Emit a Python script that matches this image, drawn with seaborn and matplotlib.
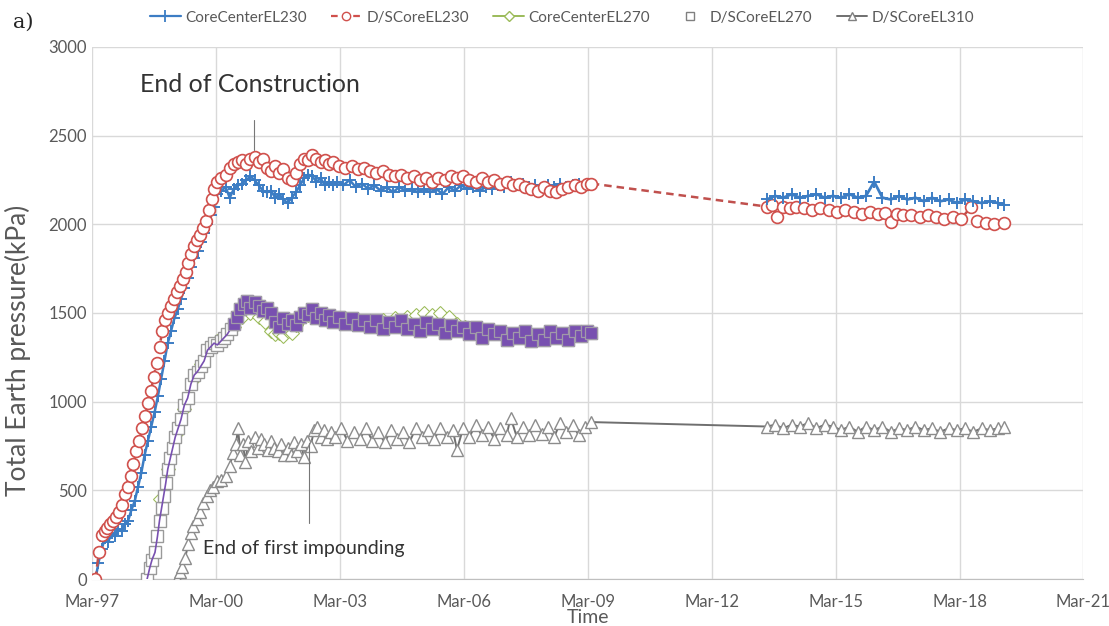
import matplotlib
matplotlib.use("Agg")
import matplotlib.pyplot as plt
from matplotlib.lines import Line2D
import seaborn as sns

# ---- data (decimal years, kPa) ----
cc230_t1 = [1997.25, 1997.32, 1997.40, 1997.48, 1997.56, 1997.64, 1997.72, 1997.80, 1997.88, 1997.96,
            1998.04, 1998.12, 1998.20, 1998.28, 1998.36, 1998.44, 1998.52, 1998.60, 1998.68, 1998.76,
            1998.84, 1998.92, 1999.00, 1999.08, 1999.16, 1999.24, 1999.32, 1999.40, 1999.48, 1999.56,
            1999.64, 1999.72, 1999.80, 1999.88, 1999.96, 2000.04, 2000.12, 2000.20, 2000.30, 2000.40,
            2000.50, 2000.60, 2000.70, 2000.80, 2000.90, 2001.00, 2001.10, 2001.20, 2001.30, 2001.40,
            2001.50, 2001.60, 2001.70, 2001.80, 2001.90, 2002.00, 2002.10, 2002.20, 2002.30, 2002.40,
            2002.50, 2002.60, 2002.70, 2002.80, 2002.90, 2003.00, 2003.10, 2003.25, 2003.40, 2003.55,
            2003.70, 2003.85, 2004.00, 2004.15, 2004.30, 2004.45, 2004.60, 2004.75, 2004.90, 2005.05,
            2005.20, 2005.35, 2005.50, 2005.65, 2005.80, 2005.95, 2006.10, 2006.25, 2006.40, 2006.55,
            2006.70, 2006.85, 2007.00, 2007.15, 2007.30, 2007.45, 2007.60, 2007.75, 2007.90, 2008.05,
            2008.20, 2008.35, 2008.50, 2008.65, 2008.80, 2008.95, 2009.10, 2009.25]
cc230_v1 = [0, 90, 170, 230, 210, 260, 240, 280, 270, 310,
            330, 390, 440, 520, 600, 700, 780, 860, 940, 1030,
            1130, 1230, 1330, 1400, 1470, 1520, 1580, 1640, 1700, 1760,
            1810, 1850, 1900, 1950, 2000, 2050, 2100, 2170, 2190, 2210,
            2150, 2200, 2220, 2230, 2250, 2270, 2250, 2220, 2190, 2180,
            2190, 2150, 2170, 2140, 2120, 2150, 2180, 2220, 2260, 2280,
            2270, 2240, 2260, 2220, 2240, 2220, 2240, 2220, 2250, 2210,
            2230, 2200, 2220, 2190, 2210, 2180, 2210, 2190, 2200, 2180,
            2200, 2180, 2200, 2170, 2210, 2190, 2220, 2200, 2210, 2190,
            2210, 2200, 2220, 2210, 2240, 2220, 2230, 2210, 2220, 2200,
            2220, 2210, 2230, 2210, 2220, 2230, 2220, 2230]
cc230_t2 = [2013.5, 2013.7, 2013.9, 2014.1, 2014.3, 2014.5, 2014.7, 2014.9, 2015.1, 2015.3,
            2015.5, 2015.7, 2015.9, 2016.1, 2016.3, 2016.5, 2016.7, 2016.9, 2017.1, 2017.3,
            2017.5, 2017.7, 2017.9, 2018.1, 2018.3, 2018.5, 2018.7, 2018.9, 2019.1, 2019.25]
cc230_v2 = [2140, 2160, 2150, 2170, 2150, 2160, 2170, 2150, 2160, 2150,
            2170, 2150, 2160, 2240, 2150, 2140, 2160, 2140, 2150, 2130,
            2150, 2130, 2140, 2120, 2140, 2130, 2120, 2130, 2120, 2110]

ds230_t = [1997.25, 1997.33, 1997.40, 1997.47, 1997.54, 1997.61, 1997.68, 1997.75, 1997.82, 1997.89,
           1997.96, 1998.03, 1998.10, 1998.17, 1998.24, 1998.31, 1998.38, 1998.45, 1998.52, 1998.59,
           1998.66, 1998.73, 1998.80, 1998.87, 1998.94, 1999.01, 1999.08, 1999.15, 1999.22, 1999.29,
           1999.36, 1999.43, 1999.50, 1999.57, 1999.64, 1999.71, 1999.78, 1999.85, 1999.92, 1999.99,
           2000.06, 2000.13, 2000.20, 2000.30, 2000.40, 2000.50, 2000.60, 2000.70, 2000.80, 2000.90,
           2001.00, 2001.10, 2001.20, 2001.30, 2001.40, 2001.50, 2001.60, 2001.70, 2001.80, 2001.90,
           2002.00, 2002.10, 2002.20, 2002.30, 2002.40, 2002.50, 2002.60, 2002.70, 2002.80, 2002.90,
           2003.00, 2003.15, 2003.30, 2003.45, 2003.60, 2003.75, 2003.90, 2004.05, 2004.20, 2004.35,
           2004.50, 2004.65, 2004.80, 2004.95, 2005.10, 2005.25, 2005.40, 2005.55, 2005.70, 2005.85,
           2006.00, 2006.15, 2006.30, 2006.45, 2006.60, 2006.75, 2006.90, 2007.05, 2007.20, 2007.35,
           2007.50, 2007.65, 2007.80, 2007.95, 2008.10, 2008.25, 2008.40, 2008.55, 2008.70, 2008.85,
           2009.00, 2009.15, 2009.25,
           2013.50, 2013.62, 2013.75, 2013.90, 2014.05, 2014.20, 2014.40, 2014.60, 2014.80, 2015.00,
           2015.20, 2015.40, 2015.60, 2015.80, 2016.00, 2016.20, 2016.35, 2016.50, 2016.65, 2016.80,
           2017.00, 2017.20, 2017.40, 2017.60, 2017.80, 2018.00, 2018.20, 2018.45, 2018.60, 2018.80,
           2019.00, 2019.24]
ds230_v = [0, 150, 250, 270, 290, 310, 330, 350, 380, 420,
           480, 520, 580, 650, 720, 780, 850, 920, 990, 1060,
           1140, 1220, 1310, 1400, 1460, 1500, 1540, 1580, 1620, 1650,
           1690, 1730, 1780, 1830, 1880, 1910, 1940, 1980, 2020, 2080,
           2140, 2200, 2240, 2260, 2280, 2320, 2340, 2350, 2360, 2340,
           2370, 2380, 2350, 2370, 2320, 2300, 2330, 2290, 2310, 2260,
           2250, 2290, 2340, 2370, 2360, 2390, 2370, 2350, 2360, 2340,
           2350, 2330, 2320, 2330, 2310, 2320, 2300, 2290, 2300, 2280,
           2270, 2280, 2260, 2270, 2250, 2260, 2240, 2260, 2250, 2270,
           2260, 2270, 2250, 2240, 2260, 2240, 2250, 2230, 2240, 2220,
           2230, 2210, 2200, 2190, 2210, 2190, 2180, 2200, 2210, 2220,
           2210, 2230, 2230,
           2100, 2110, 2040, 2100, 2090, 2100, 2090, 2080, 2090, 2080,
           2070, 2080, 2070, 2060, 2070, 2060, 2065, 2015, 2060, 2050,
           2050, 2040, 2050, 2040, 2030, 2040, 2030, 2100, 2020, 2010,
           2000, 2010]

cc270_t = [1998.8, 1999.0, 1999.2, 1999.4, 1999.6, 1999.8, 2000.0, 2000.2, 2000.4, 2000.6,
           2000.8, 2001.0, 2001.2, 2001.35, 2001.5, 2001.6, 2001.7, 2001.8, 2001.9, 2002.0,
           2002.1, 2002.25, 2002.4, 2002.6, 2002.8, 2003.0, 2003.3, 2003.6, 2003.9, 2004.2,
           2004.5, 2004.8, 2005.0, 2005.2, 2005.4, 2005.6, 2005.8, 2006.0, 2006.2]
cc270_v = [450, 620, 820, 960, 1120, 1210, 1300, 1340, 1370, 1420,
           1480, 1500, 1480, 1450, 1400, 1380, 1390, 1370, 1400, 1390,
           1430, 1470, 1490, 1500, 1480, 1470, 1470, 1460, 1450, 1460,
           1470, 1480, 1490, 1500, 1490, 1500, 1480, 1440, 1420]

ds270_t = [1998.50, 1998.56, 1998.62, 1998.69, 1998.75, 1998.80, 1998.85, 1998.90, 1998.95, 1999.00,
           1999.06, 1999.12, 1999.18, 1999.25, 1999.32, 1999.40, 1999.48, 1999.56, 1999.64, 1999.72,
           1999.80, 1999.88, 1999.96, 2000.04, 2000.12, 2000.20, 2000.28, 2000.36, 2000.44, 2000.52,
           2000.60, 2000.68, 2000.76, 2000.84, 2000.92, 2001.00, 2001.10, 2001.20, 2001.30, 2001.40,
           2001.50, 2001.60, 2001.70, 2001.80, 2001.90, 2002.00, 2002.10, 2002.20, 2002.30, 2002.40,
           2002.50, 2002.60, 2002.70, 2002.80, 2002.90, 2003.00, 2003.15, 2003.30, 2003.45, 2003.60,
           2003.75, 2003.90, 2004.05, 2004.20, 2004.35, 2004.50, 2004.65, 2004.80, 2004.95, 2005.10,
           2005.25, 2005.40, 2005.55, 2005.70, 2005.85, 2006.00, 2006.15, 2006.30, 2006.45, 2006.60,
           2006.75, 2006.90, 2007.05, 2007.20, 2007.35, 2007.50, 2007.65, 2007.80, 2007.95, 2008.10,
           2008.25, 2008.40, 2008.55, 2008.70, 2008.85, 2009.00, 2009.15, 2009.25]
ds270_v = [0, 60, 110, 150, 240, 330, 400, 470, 540, 620,
           680, 740, 800, 850, 900, 980, 1020, 1100, 1150, 1170,
           1200, 1230, 1290, 1310, 1330, 1320, 1340, 1360, 1380, 1410,
           1440, 1480, 1520, 1550, 1570, 1530, 1560, 1540, 1510, 1530,
           1500, 1450, 1420, 1470, 1440, 1460, 1430, 1480, 1500, 1490,
           1520, 1470, 1500, 1460, 1490, 1450, 1480, 1440, 1470, 1430,
           1460, 1420, 1460, 1410, 1450, 1420, 1460, 1410, 1440, 1400,
           1450, 1410, 1440, 1390, 1430, 1400, 1420, 1380, 1420, 1360,
           1410, 1380, 1400, 1350, 1390, 1360, 1400, 1340, 1380, 1350,
           1400, 1360, 1390, 1350, 1400, 1370, 1400, 1390]
ds270_band_start = 30   # from Aug-2000 the trace is a dense purple band

ds310_t = [1999.23, 1999.30, 1999.35, 1999.42, 1999.50, 1999.56, 1999.62, 1999.70, 1999.78, 1999.86,
           1999.94, 2000.02, 2000.10, 2000.20, 2000.30, 2000.40, 2000.50, 2000.58, 2000.65, 2000.70,
           2000.76, 2000.82, 2000.88, 2000.95, 2001.02, 2001.10, 2001.18, 2001.26, 2001.34, 2001.42,
           2001.50, 2001.58, 2001.66, 2001.74, 2001.82, 2001.90, 2001.98, 2002.06, 2002.14, 2002.22,
           2002.30, 2002.38, 2002.46, 2002.54, 2002.62, 2002.70, 2002.78, 2002.86, 2002.94, 2003.05,
           2003.20, 2003.35, 2003.50, 2003.65, 2003.80, 2003.95, 2004.10, 2004.25, 2004.40, 2004.55,
           2004.70, 2004.85, 2005.00, 2005.15, 2005.30, 2005.45, 2005.60, 2005.75, 2005.90, 2006.00,
           2006.15, 2006.30, 2006.45, 2006.60, 2006.75, 2006.90, 2007.05, 2007.20, 2007.30, 2007.45,
           2007.60, 2007.75, 2007.90, 2008.05, 2008.20, 2008.35, 2008.50, 2008.65, 2008.80, 2008.95,
           2009.10, 2009.25,
           2013.5, 2013.7, 2013.9, 2014.1, 2014.3, 2014.5, 2014.7, 2014.9, 2015.1, 2015.3,
           2015.5, 2015.7, 2015.9, 2016.1, 2016.3, 2016.5, 2016.7, 2016.9, 2017.1, 2017.3,
           2017.5, 2017.7, 2017.9, 2018.1, 2018.3, 2018.5, 2018.7, 2018.9, 2019.1, 2019.24]
ds310_v = [0, 40, 70, 120, 200, 260, 300, 340, 380, 430,
           470, 500, 520, 550, 560, 580, 640, 710, 760, 850,
           700, 760, 660, 780, 720, 800, 740, 790, 760, 730,
           780, 740, 720, 760, 700, 740, 700, 770, 720, 760,
           690, 780, 750, 840, 860, 800, 840, 790, 830, 800,
           850, 780, 830, 790, 850, 780, 830, 770, 840, 790,
           830, 770, 850, 800, 840, 790, 850, 800, 840, 730,
           850, 800, 870, 810, 860, 790, 850, 810, 910, 800,
           860, 810, 870, 820, 860, 800, 880, 830, 870, 810,
           860, 885,
           860, 870, 850, 870, 860, 880, 850, 870, 860, 840,
           860, 830, 860, 840, 860, 830, 850, 840, 860, 840,
           850, 830, 850, 840, 850, 830, 850, 840, 850, 855]

series_names = ["CoreCenterEL230", "D/SCoreEL230", "CoreCenterEL270", "D/SCoreEL270", "D/SCoreEL310"]
tick_years = [1997, 2000, 2003, 2006, 2009, 2012, 2015, 2018, 2021]
tick_labels = ["Mar-97", "Mar-00", "Mar-03", "Mar-06", "Mar-09", "Mar-12", "Mar-15", "Mar-18", "Mar-21"]

blue = "#3c7dc4"
red = "#d0504c"
green = "#9bbb59"
purple = "#7850b0"
grey = "#8c8c8c"
txt = "#595959"

sns.set_style("whitegrid", {"grid.color": "#d9d9d9", "axes.edgecolor": "#bfbfbf"})
plt.rcParams["font.family"] = ["Lato", "DejaVu Sans"]

fig, ax = plt.subplots(figsize=(11.09, 6.26), dpi=100)
fig.subplots_adjust(left=0.083, right=0.977, top=0.925, bottom=0.075)

common = dict(ax=ax, estimator=None, sort=False, legend=False)

# CoreCenterEL230 (two separate periods, no link); seaborn paints marker edges white by
# default, so the "+" needs its colour set explicitly
sns.lineplot(x=cc230_t1, y=cc230_v1, color=blue, lw=1.8, marker="+", markersize=9,
             markeredgecolor=blue, markeredgewidth=1.4, zorder=3, **common)
sns.lineplot(x=cc230_t2, y=cc230_v2, color=blue, lw=2.0, marker="+", markersize=9,
             markeredgecolor=blue, markeredgewidth=1.4, zorder=4.5, **common)

# D/SCoreEL230 dashed with open circles
sns.lineplot(x=ds230_t, y=ds230_v, color="#c0504d", lw=1.8, linestyle=(0, (3, 2)),
             marker="o", markersize=8.5, markerfacecolor="white", markeredgecolor=red,
             markeredgewidth=1.2, zorder=4, **common)

# CoreCenterEL270 green diamonds
sns.lineplot(x=cc270_t, y=cc270_v, color=green, lw=1.2, marker="D", markersize=7,
             markerfacecolor="white", markeredgecolor=green, zorder=5, **common)

# D/SCoreEL270 grey squares, purple trace, dense purple band after construction
sns.lineplot(x=ds270_t, y=ds270_v, color=purple, lw=0, marker="s", markersize=8,
             markerfacecolor="white", markeredgecolor="#9a9a9a", markeredgewidth=1.0,
             zorder=6, **common)
sns.lineplot(x=ds270_t, y=ds270_v, color=purple, lw=1.2, zorder=7, **common)
sns.lineplot(x=ds270_t[ds270_band_start:], y=ds270_v[ds270_band_start:], color=purple, lw=2.0,
             marker="s", markersize=8.5, markerfacecolor=purple, markeredgecolor="#a09aa8",
             markeredgewidth=0.9, zorder=7.5, **common)

# D/SCoreEL310 grey triangles
sns.lineplot(x=ds310_t, y=ds310_v, color="#6f6f6f", lw=1.4, marker="^", markersize=9,
             markerfacecolor="white", markeredgecolor=grey, markeredgewidth=1.0,
             zorder=8, **common)

ax.set_xlim(1997 + 2 / 12, 2021 + 2 / 12)
ax.set_ylim(0, 3000)
ax.set_xticks([y + 2 / 12 for y in tick_years])
ax.set_xticklabels(tick_labels)
ax.set_yticks(range(0, 3001, 500))
ax.tick_params(axis="both", length=0, labelsize=12, colors=txt)
ax.tick_params(axis="x", pad=11)
ax.grid(True, color="#d9d9d9", lw=1)
for s in ["left", "right", "top"]:
    ax.spines[s].set_visible(False)
ax.spines["bottom"].set_color("#bfbfbf")

ax.set_xlabel("Time", fontsize=14, color=txt, labelpad=-1)
ax.set_ylabel("Total Earth pressure(kPa)", fontsize=19, color=txt)
ax.yaxis.set_label_coords(-0.062, 0.43)

# annotations
ax.text(1998.33, 2786, "End of Construction", fontsize=18, color="#333333", va="center", ha="left")
ax.plot([2001.09, 2001.09], [2419, 2588], color="#777777", lw=0.8, zorder=9)
ax.text(1999.85, 175, "End of first impounding", fontsize=14, color="#333333", va="center", ha="left")
ax.plot([2002.42, 2002.42], [316, 767], color="#777777", lw=0.8, zorder=9)

handles = [
    Line2D([], [], color=blue, lw=1.6, marker="+", markersize=9, markeredgewidth=1.3),
    Line2D([], [], color=red, lw=1.6, linestyle=(0, (3, 2)), marker="o", markersize=6,
           markerfacecolor="white", markeredgecolor=red),
    Line2D([], [], color=green, lw=1.4, marker="D", markersize=5,
           markerfacecolor="white", markeredgecolor=green),
    Line2D([], [], lw=0, marker="s", markersize=6, markerfacecolor="white", markeredgecolor="#808080"),
    Line2D([], [], color="#6f6f6f", lw=1.4, marker="^", markersize=6,
           markerfacecolor="white", markeredgecolor="#808080"),
]
fig.legend(handles, series_names, loc="upper center", bbox_to_anchor=(0.507, 1.005), ncol=5,
           frameon=False, fontsize=11, handlelength=2.0, columnspacing=1.6, handletextpad=0.3,
           labelcolor=txt)

fig.text(0.012, 0.965, "a)", fontsize=15, family="DejaVu Serif", va="center")

fig.savefig("out.png", dpi=100)
